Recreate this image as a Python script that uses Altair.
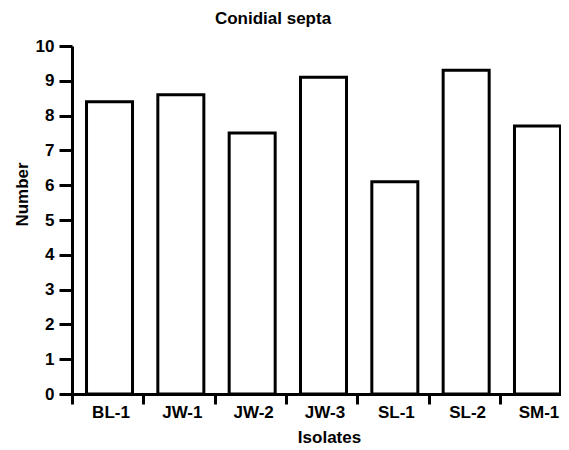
import altair as alt
import pandas as pd

isolates = ["BL-1", "JW-1", "JW-2", "JW-3", "SL-1", "SL-2", "SM-1"]
septa = [8.4, 8.6, 7.5, 9.1, 6.1, 9.3, 7.7]

df = pd.DataFrame({"Isolates": isolates, "Number": septa})

FONT = "Liberation Sans"

chart = alt.Chart(df).mark_bar(
    fill="white", stroke="black", strokeWidth=3, strokeJoin="miter"
).encode(
    x=alt.X(
        "Isolates:N",
        sort=isolates,
        scale=alt.Scale(paddingInner=0.355, paddingOuter=0.2034, range=[0, 503]),
        axis=alt.Axis(
            title="Isolates", labelAngle=0, bandPosition=0, tickOffset=-14.5,
            labelOffset=15.5, tickSize=10, tickWidth=3, domainWidth=3,
            domainColor="black", tickColor="black", labelPadding=0,
            labelFontSize=17, labelFontWeight="bold", labelFont=FONT, labelColor="black",
            titleFontSize=17, titleFontWeight="bold", titleFont=FONT, titleColor="black",
            titleX=257, titleY=43, titleBaseline="middle", titleAlign="center",
        ),
    ),
    y=alt.Y(
        "Number:Q",
        scale=alt.Scale(domain=[0, 10], nice=False),
        axis=alt.Axis(
            title="Number", values=list(range(11)), tickSize=13, tickWidth=3,
            domainWidth=3, domainColor="black", tickColor="black", grid=False,
            labelPadding=5, labelFontSize=17, labelFontWeight="bold", labelFont=FONT,
            labelColor="black",
            titleFontSize=17, titleFontWeight="bold", titleFont=FONT, titleColor="black",
            titleX=-50, titleY=148, titleBaseline="middle", titleAlign="center", titleAngle=-90,
        ),
    ),
).properties(
    width=489,
    height=348,
    title=alt.TitleParams("Conidial septa", fontSize=17, fontWeight="bold", font=FONT,
                          color="black", dx=-43.5, offset=9),
    autosize=alt.AutoSizeParams(type="none"),
    padding={"left": 64, "top": 38, "right": 0, "bottom": 54},
).configure_view(stroke=None)

chart.save("out.html", embed_options={"renderer": "svg", "actions": False})
